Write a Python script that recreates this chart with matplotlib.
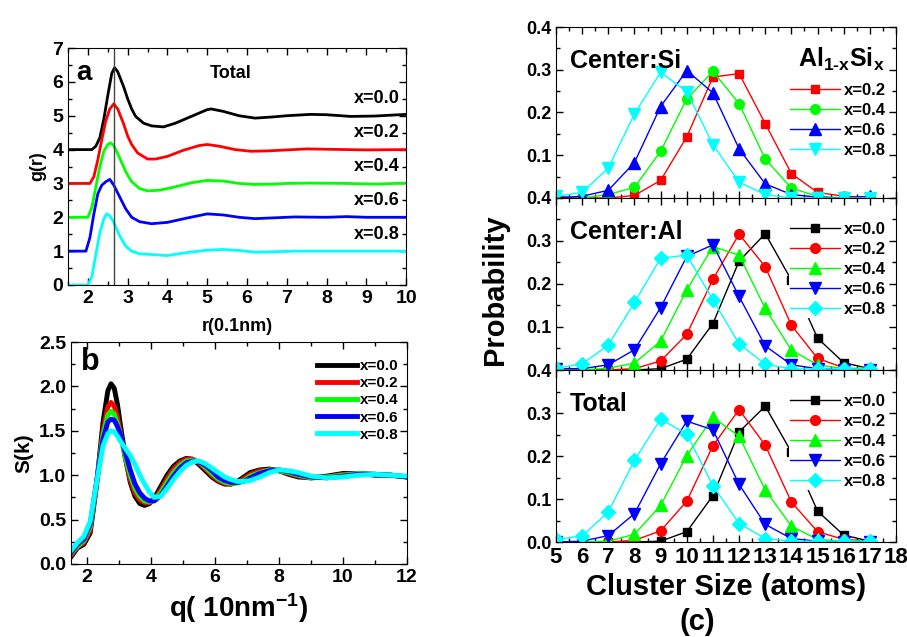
import matplotlib
matplotlib.use("Agg")
import matplotlib.pyplot as plt
from matplotlib.ticker import MultipleLocator
import numpy as np

plt.rcParams["font.family"] = ["Liberation Sans Narrow", "Liberation Sans", "DejaVu Sans"]
plt.rcParams["font.weight"] = "bold"
plt.rcParams["axes.labelweight"] = "bold"
plt.rcParams["mathtext.default"] = "regular"

COLORS = ["black", "#ff0000", "#00ff00", "#0000ff", "#00ffff"]
X_LABELS = ["x=0.0", "x=0.2", "x=0.4", "x=0.6", "x=0.8"]

# --- panel a: g(r), each curve shifted by its offset ---
gr_offsets = [4, 3, 2, 1, 0]
gr_r00 = [1.5, 2.1, 2.2, 2.3, 2.4, 2.5, 2.6, 2.67, 2.75, 2.9, 3.0, 3.1, 3.2, 3.4, 3.6, 3.9,
          4.2, 4.6, 5.0, 5.1, 5.4, 5.8, 6.2, 6.6, 7.0, 7.6, 8.0, 8.6, 9.2, 10.0]
gr_g00 = [0, 0, 0.1, 0.35, 0.9, 1.6, 2.25, 2.42, 2.3, 1.85, 1.5, 1.2, 0.98, 0.78, 0.7, 0.67,
          0.78, 0.98, 1.18, 1.2, 1.13, 1.0, 0.93, 0.96, 1.0, 1.04, 1.03, 0.98, 0.99, 1.04]
gr_r02 = [1.5, 2.05, 2.15, 2.25, 2.35, 2.45, 2.55, 2.65, 2.75, 2.9, 3.0, 3.1, 3.25, 3.5, 3.7,
          4.0, 4.4, 4.8, 5.0, 5.3, 5.7, 6.1, 6.5, 7.0, 7.5, 8.0, 8.5, 9.0, 10.0]
gr_g02 = [0, 0, 0.2, 0.7, 1.3, 1.85, 2.2, 2.35, 2.2, 1.75, 1.4, 1.15, 0.9, 0.72, 0.72,
          0.8, 0.98, 1.12, 1.15, 1.1, 1.0, 0.95, 0.96, 0.99, 1.02, 1.01, 1.0, 0.99, 1.0]
gr_r04 = [1.5, 2.0, 2.1, 2.2, 2.3, 2.4, 2.5, 2.57, 2.65, 2.8, 2.95, 3.1, 3.3, 3.5, 3.8, 4.2,
          4.6, 5.0, 5.4, 5.8, 6.2, 6.6, 7.0, 7.6, 8.5, 9.2, 10.0]
gr_g04 = [0, 0, 0.3, 0.9, 1.5, 1.95, 2.15, 2.2, 2.12, 1.75, 1.35, 1.05, 0.85, 0.78, 0.8, 0.9,
          1.02, 1.09, 1.07, 1.0, 0.97, 0.98, 1.0, 1.01, 1.0, 0.98, 1.01]
gr_r06 = [1.5, 1.95, 2.05, 2.15, 2.25, 2.35, 2.45, 2.55, 2.65, 2.8, 2.95, 3.1, 3.3, 3.6, 4.0,
          4.5, 5.0, 5.4, 5.8, 6.2, 6.6, 7.2, 8.0, 8.5, 9.0, 10.0]
gr_g06 = [0, 0, 0.4, 1.1, 1.7, 1.95, 2.05, 2.12, 1.95, 1.6, 1.25, 1.0, 0.87, 0.81, 0.85,
          0.98, 1.1, 1.07, 1.0, 0.96, 0.98, 1.01, 1.0, 1.02, 1.0, 1.0]
gr_r08 = [1.5, 2.0, 2.1, 2.2, 2.3, 2.4, 2.47, 2.55, 2.65, 2.8, 2.95, 3.1, 3.3, 3.6, 4.0, 4.5,
          5.0, 5.4, 5.8, 6.2, 6.6, 7.2, 8.0, 9.0, 10.0]
gr_g08 = [0, 0, 0.25, 0.9, 1.55, 1.95, 2.1, 2.05, 1.85, 1.45, 1.15, 1.0, 0.92, 0.9, 0.87, 0.96,
          1.03, 1.05, 1.02, 0.97, 0.98, 1.0, 1.0, 1.0, 1.0]
gr_curves = [(gr_r00, gr_g00), (gr_r02, gr_g02), (gr_r04, gr_g04), (gr_r06, gr_g06), (gr_r08, gr_g08)]
first_peak_r = 2.65

# --- panel b: S(k), read on a common q grid ---
sk_q = [1.5, 1.7, 1.9, 2.1, 2.3, 2.5, 2.65, 2.75, 2.85, 2.95, 3.05, 3.2, 3.35, 3.5, 3.65,
        3.8, 3.95, 4.1, 4.3, 4.5, 4.7, 4.9, 5.1, 5.3, 5.5, 5.7, 5.9, 6.1, 6.3, 6.5,
        6.7, 6.9, 7.1, 7.4, 7.7, 8.0, 8.3, 8.6, 9.0, 9.5, 10.0, 10.5, 11.0, 11.5, 12.0]
sk_x00 = [0.08, 0.18, 0.22, 0.35, 0.9, 1.6, 1.95, 2.03, 1.98, 1.8, 1.55, 1.2, 0.92, 0.76, 0.68,
          0.66, 0.68, 0.74, 0.87, 1.0, 1.1, 1.16, 1.19, 1.18, 1.12, 1.05, 0.98, 0.93, 0.9, 0.9,
          0.93, 0.98, 1.03, 1.06, 1.07, 1.05, 1.01, 0.98, 0.97, 0.99, 1.02, 1.02, 1.0, 1.0, 0.98]
sk_x02 = [0.1, 0.19, 0.24, 0.38, 0.9, 1.5, 1.77, 1.82, 1.78, 1.65, 1.47, 1.18, 0.95, 0.8, 0.72,
          0.69, 0.69, 0.73, 0.83, 0.96, 1.07, 1.14, 1.18, 1.18, 1.14, 1.07, 1.0, 0.94, 0.91, 0.9,
          0.92, 0.96, 1.01, 1.05, 1.06, 1.05, 1.02, 0.99, 0.97, 0.98, 1.01, 1.02, 1.01, 1.0, 0.98]
sk_x04 = [0.12, 0.2, 0.26, 0.42, 0.92, 1.45, 1.68, 1.72, 1.69, 1.58, 1.45, 1.2, 1.0, 0.85, 0.76,
          0.71, 0.7, 0.72, 0.8, 0.92, 1.03, 1.11, 1.16, 1.17, 1.15, 1.09, 1.02, 0.96, 0.92, 0.91,
          0.91, 0.94, 0.99, 1.03, 1.06, 1.05, 1.03, 1.0, 0.97, 0.98, 1.0, 1.02, 1.01, 1.0, 0.98]
sk_x06 = [0.13, 0.22, 0.28, 0.45, 0.93, 1.4, 1.6, 1.63, 1.62, 1.55, 1.45, 1.25, 1.06, 0.9, 0.8,
          0.74, 0.71, 0.71, 0.77, 0.88, 0.99, 1.08, 1.14, 1.16, 1.15, 1.11, 1.05, 0.98, 0.94, 0.92,
          0.92, 0.93, 0.97, 1.02, 1.05, 1.06, 1.04, 1.01, 0.98, 0.97, 0.99, 1.01, 1.01, 1.0, 0.98]
sk_x08 = [0.15, 0.24, 0.31, 0.48, 0.92, 1.33, 1.47, 1.5, 1.49, 1.44, 1.38, 1.3, 1.22, 1.12, 1.0,
          0.9, 0.81, 0.75, 0.76, 0.85, 0.95, 1.04, 1.11, 1.15, 1.16, 1.13, 1.08, 1.03, 0.98, 0.95,
          0.93, 0.93, 0.94, 0.98, 1.03, 1.06, 1.05, 1.03, 0.99, 0.97, 0.98, 1.0, 1.01, 1.0, 0.99]
sk_curves = [sk_x00, sk_x02, sk_x04, sk_x06, sk_x08]

# --- panel c: cluster size distributions ---
cluster_sizes = [5, 6, 7, 8, 9, 10, 11, 12, 13, 14, 15, 16, 17]

si_x02 = [0.004, 0.0, 0.0, 0.006, 0.041, 0.143, 0.283, 0.291, 0.174, 0.057, 0.013, 0.004, 0.002]
si_x04 = [0.0, 0.0, 0.008, 0.025, 0.109, 0.232, 0.296, 0.221, 0.091, 0.023, 0.004, 0.0, 0.0]
si_x06 = [0.0, 0.004, 0.018, 0.083, 0.214, 0.298, 0.246, 0.115, 0.033, 0.008, 0.002, 0.0, 0.004]
si_x08 = [0.004, 0.013, 0.070, 0.197, 0.294, 0.249, 0.125, 0.037, 0.008, 0.0, 0.0, 0.0, 0.0]

al_x00 = [0.0, 0.0, 0.0, 0.0, 0.003, 0.025, 0.108, 0.253, 0.317, 0.209, 0.074, 0.017, 0.003]
al_x02 = [0.0, 0.0, 0.0, 0.003, 0.021, 0.083, 0.211, 0.316, 0.240, 0.104, 0.027, 0.005, 0.0]
al_x04 = [0.0, 0.0, 0.004, 0.016, 0.067, 0.186, 0.287, 0.267, 0.143, 0.046, 0.012, 0.003, 0.005]
al_x06 = [0.003, 0.003, 0.012, 0.047, 0.145, 0.264, 0.291, 0.171, 0.056, 0.012, 0.003, 0.0, 0.0]
al_x08 = [0.004, 0.014, 0.058, 0.157, 0.260, 0.267, 0.163, 0.061, 0.013, 0.003, 0.002, 0.002, 0.002]

tot_x00 = [0.0, 0.0, 0.0, 0.0, 0.002, 0.024, 0.108, 0.256, 0.316, 0.209, 0.072, 0.016, 0.002]
tot_x02 = [0.0, 0.0, 0.0, 0.004, 0.026, 0.095, 0.224, 0.308, 0.225, 0.093, 0.024, 0.006, 0.002]
tot_x04 = [0.0, 0.0, 0.002, 0.018, 0.085, 0.201, 0.290, 0.246, 0.121, 0.037, 0.006, 0.002, 0.002]
tot_x06 = [0.0, 0.002, 0.015, 0.066, 0.182, 0.281, 0.261, 0.134, 0.041, 0.008, 0.002, 0.0, 0.0]
tot_x08 = [0.006, 0.014, 0.070, 0.190, 0.286, 0.251, 0.131, 0.043, 0.008, 0.002, 0.002, 0.002, 0.002]

size_ticks = list(range(5, 19))

MARKERS = ["s", "o", "^", "v", "D"]
MSIZES = [6, 7, 8, 8, 7]


def style_ticks(ax, labelsize=13):
    ax.tick_params(which="both", direction="in", top=True, right=True, width=1)
    ax.tick_params(which="major", length=5, labelsize=labelsize)
    ax.tick_params(which="minor", length=3)
    for lbl in ax.get_xticklabels() + ax.get_yticklabels():
        lbl.set_fontweight("bold")


fig = plt.figure(figsize=(9.07, 6.37), dpi=100)

# panel a
ax_a = fig.add_axes([0.075, 0.5526, 0.3727, 0.372])
for (r, g), off, c in zip(gr_curves, gr_offsets, COLORS):
    ax_a.plot(r, np.array(g) + off, color=c, lw=2)
ax_a.axvline(first_peak_r, color="#444444", lw=1)
ax_a.set_xlim(1.5, 10)
ax_a.set_ylim(0, 7)
ax_a.xaxis.set_major_locator(MultipleLocator(1))
ax_a.xaxis.set_minor_locator(MultipleLocator(0.5))
ax_a.yaxis.set_major_locator(MultipleLocator(1))
ax_a.yaxis.set_minor_locator(MultipleLocator(0.5))
style_ticks(ax_a, 14)
ax_a.set_ylabel("g(r)", fontsize=13)
ax_a.text(1.7, 6.25, "a", fontsize=20, fontweight="bold", va="center")
ax_a.text(5.6, 6.25, "Total", fontsize=13, fontweight="bold", ha="center", va="center")
for off, lab in zip(gr_offsets, X_LABELS):
    ax_a.text(9.85, off + 1.5, lab, fontsize=13, fontweight="bold", ha="right", va="center")
fig.text(0.262, 0.487, "r(0.1nm)", fontsize=13, fontweight="bold", ha="center", va="center")

# panel b
ax_b = fig.add_axes([0.0783, 0.1146, 0.3705, 0.3485])
for s, c, lab in zip(sk_curves, COLORS, X_LABELS):
    ax_b.plot(sk_q, s, color=c, lw=3.5, label=lab)
ax_b.set_xlim(1.5, 12)
ax_b.set_ylim(0, 2.5)
ax_b.xaxis.set_major_locator(MultipleLocator(2))
ax_b.xaxis.set_minor_locator(MultipleLocator(1))
ax_b.yaxis.set_major_locator(MultipleLocator(0.5))
ax_b.yaxis.set_minor_locator(MultipleLocator(0.25))
style_ticks(ax_b, 14)
ax_b.set_ylabel("S(k)", fontsize=15)
ax_b.set_xlabel("q( 10nm$^{-1}$)", fontsize=20)
ax_b.text(1.8, 2.28, "b", fontsize=22, fontweight="bold", va="center")
ax_b.legend(loc="upper left", bbox_to_anchor=(0.7, 0.97), frameon=False,
            prop={"size": 11, "weight": "bold"}, handlelength=2.6,
            handletextpad=0.2, labelspacing=0.2, borderpad=0.2)

# panel c
c_left, c_width = 0.613, 0.3749
ax_si = fig.add_axes([c_left, 0.6892, c_width, 0.2684])
ax_al = fig.add_axes([c_left, 0.4192, c_width, 0.27])
ax_tot = fig.add_axes([c_left, 0.1491, c_width, 0.27])

panels = [
    (ax_si, [None, si_x02, si_x04, si_x06, si_x08], "Center:Si"),
    (ax_al, [al_x00, al_x02, al_x04, al_x06, al_x08], "Center:Al"),
    (ax_tot, [tot_x00, tot_x02, tot_x04, tot_x06, tot_x08], "Total"),
]
for i, (ax, series, title) in enumerate(panels):
    for j, (vals, c, lab) in enumerate(zip(series, COLORS, X_LABELS)):
        if vals is None:
            continue
        # the Center:Si panel uses different marker shapes
        mk = ["s", "s", "o", "^", "v"][j] if i == 0 else MARKERS[j]
        ms = [6, 6, 7, 8, 8][j] if i == 0 else MSIZES[j]
        ax.plot(cluster_sizes, vals, color=c, lw=1, marker=mk, ms=ms,
                mec=c, mfc=c, label=lab)
    ax.set_xlim(5, 18)
    ax.set_ylim(0, 0.4)
    ax.set_xticks(size_ticks)
    ax.xaxis.set_minor_locator(MultipleLocator(0.5))
    ax.yaxis.set_minor_locator(MultipleLocator(0.05))
    ax.set_yticks([0.1, 0.2, 0.3, 0.4] if i < 2 else [0.0, 0.1, 0.2, 0.3, 0.4])
    ax.set_yticklabels([f"{v:.1f}" for v in ax.get_yticks()])
    style_ticks(ax, 13)
    if i < 2:
        ax.tick_params(labelbottom=False)
    ax.text(0.04, 0.8, title, transform=ax.transAxes, fontsize=18,
            fontweight="bold", va="center")
    anchor_y = 0.73 if i == 0 else 0.92
    ax.legend(loc="upper left", bbox_to_anchor=(0.66, anchor_y), frameon=True,
              facecolor="white", edgecolor="none", framealpha=1,
              prop={"size": 12, "weight": "bold"}, handlelength=3.0,
              handletextpad=0.2, labelspacing=0.3, borderpad=0.1)

ax_si.text(0.84, 0.81, "Al$_{1\u2010x}$Si$_x$", transform=ax_si.transAxes, fontsize=18,
           fontweight="bold", ha="center", va="center")
ax_tot.set_xticklabels([str(v) for v in size_ticks], fontweight="bold", fontsize=16)
ax_tot.set_xlabel("Cluster Size (atoms)", fontsize=21, labelpad=4)
fig.text(0.546, 0.545, "Probability", fontsize=21, fontweight="bold",
         rotation=90, ha="center", va="center")
fig.text(0.769, 0.023, "(c)", fontsize=21, fontweight="bold", ha="center", va="center")

fig.savefig("out.png", dpi=100)
